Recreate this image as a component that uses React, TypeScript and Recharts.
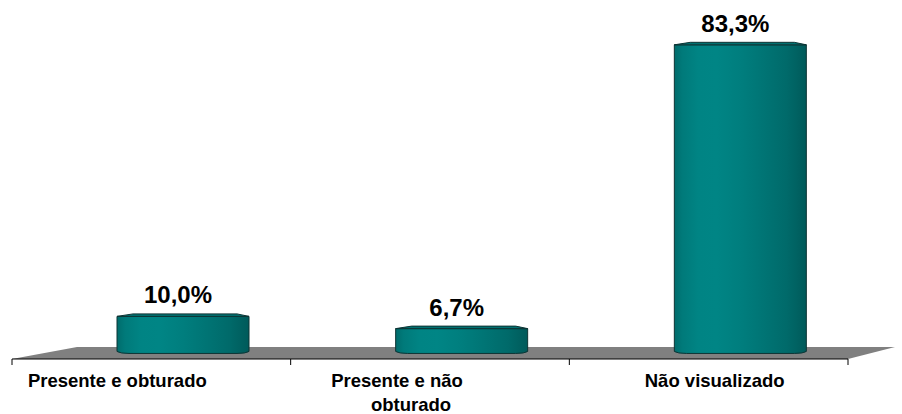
import React from 'react';
import { BarChart, Bar, XAxis, YAxis, ReferenceArea, LabelList } from 'recharts';

// Categorias e percentuais
const categories = ['Presente e obturado', 'Presente e não obturado', 'Não visualizado'];
const percentages = [10.0, 6.7, 83.3];
const valueLabels = ['10,0%', '6,7%', '83,3%'];
// Quebra de linha dos rótulos do eixo X
const tickLines = [['Presente e obturado'], ['Presente e não', 'obturado'], ['Não visualizado']];

const data = categories.map((category, i) => ({
  category,
  value: percentages[i],
  label: valueLabels[i],
}));

const FONT = '"Liberation Sans", Arial, sans-serif';
const BAR_SHIFT = 32; // deslocamento do cilindro sobre o piso 3D
const LABEL_SHIFT = [[-34], [-33, -19], [6]];

const Cylinder = (props: any) => {
  const { x, y, width, height } = props;
  if (!height || height <= 0) return null;
  const left = x + BAR_SHIFT;
  const right = left + width;
  const top = y;
  const bottom = y + height;
  const body = `M${left},${top} L${left},${bottom - 2} Q${left + 3},${bottom} ${left + 12},${bottom}
    L${right - 12},${bottom} Q${right - 3},${bottom} ${right},${bottom - 2} L${right},${top} Z`;
  const cap = `M${left},${top} L${left + 16},${top - 2.5} L${right - 12},${top - 2.5} L${right},${top} Z`;
  return (
    <g>
      <path d={body} fill="url(#cylFill)" stroke="#0d3434" strokeWidth={1} />
      <path d={cap} fill="#007070" stroke="#0d3434" strokeWidth={1} />
    </g>
  );
};

const Floor = (props: any) => {
  const { x, y, width, height } = props;
  const front = y + height;
  const ticks = categories.length + 1;
  return (
    <g>
      <polygon
        points={`${x},${front} ${x + width},${front} ${x + width + 47},${y} ${x + 65},${y}`}
        fill="#808080"
      />
      <line x1={x} y1={front} x2={x + width} y2={front} stroke="#000" strokeWidth={1} />
      {Array.from({ length: ticks }).map((_, i) => {
        const tx = x + (width * i) / categories.length;
        return <line key={i} x1={tx} y1={front} x2={tx} y2={front + 6} stroke="#000" strokeWidth={1} />;
      })}
    </g>
  );
};

const CategoryTick = (props: any) => {
  const { x, payload, index } = props;
  const lines = tickLines[index] || [payload.value];
  return (
    <g>
      {lines.map((line: string, i: number) => (
        <text
          key={i}
          x={x + LABEL_SHIFT[index][i]}
          y={386.5 + i * 24}
          textAnchor="middle"
          fontFamily={FONT}
          fontSize={18.5}
          fontWeight="bold"
          fill="#000"
        >
          {line}
        </text>
      ))}
    </g>
  );
};

const ValueLabel = (props: any) => {
  const { x, y, width, value } = props;
  return (
    <text
      x={x + width / 2 + BAR_SHIFT - 5}
      y={y - 13}
      textAnchor="middle"
      fontFamily={FONT}
      fontSize={24}
      fontWeight="bold"
      fill="#000"
    >
      {value}
    </text>
  );
};

export default function App() {
  return (
    <div style={{ position: 'absolute', left: 0, top: 0, width: 902, height: 414, background: '#fff' }}>
      <BarChart
        width={902}
        height={414}
        data={data}
        margin={{ top: 20, right: 54, bottom: 0, left: 12 }}
        barSize={132}
      >
        <defs>
          <linearGradient id="cylFill" x1="0" y1="0" x2="1" y2="0">
            <stop offset="0" stopColor="#006c6c" />
            <stop offset="0.06" stopColor="#007a7a" />
            <stop offset="0.18" stopColor="#008484" />
            <stop offset="0.32" stopColor="#008585" />
            <stop offset="0.5" stopColor="#007e7e" />
            <stop offset="0.68" stopColor="#007474" />
            <stop offset="0.85" stopColor="#006a6a" />
            <stop offset="1" stopColor="#005a5a" />
          </linearGradient>
        </defs>
        <XAxis
          dataKey="category"
          axisLine={false}
          tickLine={false}
          interval={0}
          height={55}
          tick={<CategoryTick />}
        />
        <YAxis hide domain={[-1.5, 90]} allowDataOverflow />
        <ReferenceArea y1={-1.5} y2={1.73} ifOverflow="visible" shape={<Floor />} />
        <Bar dataKey="value" shape={<Cylinder />} isAnimationActive={false}>
          <LabelList dataKey="label" content={<ValueLabel />} />
        </Bar>
      </BarChart>
    </div>
  );
}
